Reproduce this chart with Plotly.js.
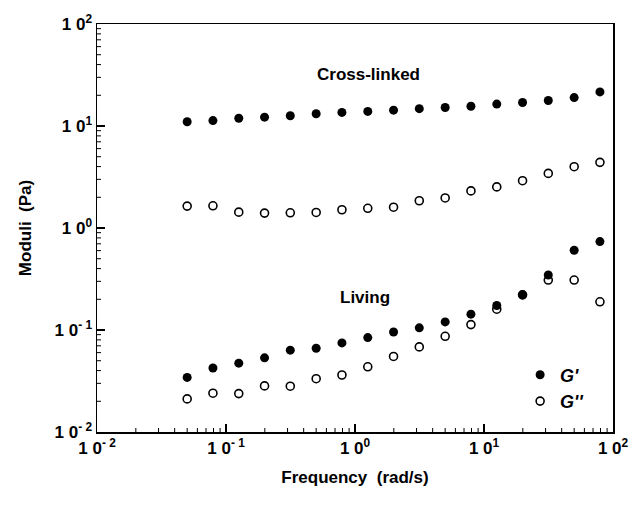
<!DOCTYPE html>
<html>
<head>
<meta charset="utf-8">
<script src="https://cdn.plot.ly/plotly-3.0.1.min.js"></script>
<style>html,body{margin:0;padding:0;background:#fff;} #chart{width:634px;height:506px;}</style>
</head>
<body>
<div id="chart"></div>
<script>
// Frequency (rad/s)
const frequency = [0.05, 0.0792, 0.1256, 0.199, 0.315, 0.5, 0.792, 1.256, 1.99, 3.15, 5.0, 7.92, 12.56, 19.9, 31.5, 50.0, 79.2];
// Cross-linked
const crossG1 = [11.0, 11.3, 11.9, 12.2, 12.6, 13.2, 13.6, 13.9, 14.3, 14.8, 15.2, 15.6, 16.4, 17.0, 17.8, 19.0, 21.6];
const crossG2 = [1.64, 1.65, 1.43, 1.40, 1.41, 1.42, 1.51, 1.56, 1.60, 1.85, 1.97, 2.31, 2.53, 2.91, 3.43, 3.99, 4.40];
// Living
const livingG1 = [0.0343, 0.0424, 0.0473, 0.0533, 0.0634, 0.0663, 0.0747, 0.0842, 0.0957, 0.105, 0.120, 0.143, 0.174, 0.221, 0.346, 0.605, 0.736];
const livingG2 = [0.0211, 0.0240, 0.0238, 0.0283, 0.0281, 0.0333, 0.0362, 0.0436, 0.0550, 0.0683, 0.0867, 0.113, 0.160, 0.221, 0.309, 0.309, 0.189];

const majorVals = [0.01, 0.1, 1, 10, 100];
const majorText = ['1 0<sup>- 2</sup>', '1 0<sup>- 1</sup>', '1 0<sup>0</sup>', '1 0<sup>1</sup>', '1 0<sup>2</sup>'];
const minorVals = [];
for (let e = -2; e < 2; e++) for (let m = 2; m <= 9; m++) minorVals.push(m * Math.pow(10, e));

const labels = [
  {text: 'Cross-linked', x: 1.28, y: 32},
  {text: 'Living', x: 1.19, y: 0.21}
];

const FONT = 'Liberation Sans, Arial, sans-serif';
const filled = {symbol: 'circle', size: 9, color: '#000', line: {width: 0}};
const open = {symbol: 'circle-open', size: 8, color: '#000', line: {width: 1.6}};

const traces = [
  {x: frequency, y: crossG2, mode: 'markers', marker: open, name: "<i>G''</i>", showlegend: false},
  {x: frequency, y: livingG2, mode: 'markers', marker: open, name: "<i>G''</i>", showlegend: false},
  {x: frequency, y: crossG1, mode: 'markers', marker: filled, name: "<i>G'</i>", showlegend: true, legendrank: 1},
  {x: frequency, y: livingG1, mode: 'markers', marker: filled, name: "<i>G'</i>", showlegend: false},
  {x: [null], y: [null], mode: 'markers', marker: open, name: "<i>G''</i>", showlegend: true, legendrank: 2}
];

function axis(title) {
  return {
    type: 'log', range: [-2, 2],
    tickmode: 'array', tickvals: majorVals, ticktext: majorText,
    ticks: 'inside', ticklen: 8, tickwidth: 1.5, tickcolor: '#000',
    showline: true, linecolor: '#000', linewidth: 1.5, mirror: true,
    showgrid: false, zeroline: false,
    tickfont: {family: FONT, size: 17, color: '#000', weight: 'bold'},
    title: {text: title, font: {family: FONT, size: 17, color: '#000', weight: 'bold'}}
  };
}

const xa = axis('Frequency  (rad/s)');
xa.title.standoff = 14;
const ya = axis('Moduli  (Pa)');
ya.title.standoff = 18;

// Inside tick marks drawn as axis-referenced shapes (major + minor), on x (bottom) and y (left)
const PLOT_W = 634 - 97 - 21, PLOT_H = 506 - 24 - 74;
function tickShapes(vals, lenPx, width) {
  const out = [];
  vals.forEach(v => {
    out.push({type: 'line', xref: 'x', yref: 'paper', x0: v, x1: v, y0: 0, y1: lenPx / PLOT_H,
              line: {color: '#000', width: width}, layer: 'above'});
    out.push({type: 'line', xref: 'paper', yref: 'y', y0: v, y1: v, x0: 0, x1: lenPx / PLOT_W,
              line: {color: '#000', width: width}, layer: 'above'});
  });
  return out;
}
const shapes = tickShapes(majorVals.slice(1, -1), 8, 1.5).concat(tickShapes(minorVals, 4, 1));

const layout = {
  width: 634, height: 506,
  margin: {l: 97, r: 21, t: 24, b: 74},
  paper_bgcolor: '#fff', plot_bgcolor: '#fff',
  xaxis: xa, yaxis: ya,
  shapes: shapes,
  showlegend: true,
  legend: {x: 0.82, y: 0.185, xanchor: 'left', yanchor: 'top', bgcolor: 'rgba(0,0,0,0)',
           font: {family: FONT, size: 18, color: '#000', weight: 'bold'}, itemwidth: 30, traceorder: 'normal'},
  annotations: labels.map(l => ({
    x: Math.log10(l.x), y: Math.log10(l.y), xref: 'x', yref: 'y', text: l.text, showarrow: false,
    font: {family: FONT, size: 17, color: '#000', weight: 'bold'}
  }))
};

Plotly.newPlot('chart', traces, layout, {displayModeBar: false, staticPlot: true});
</script>
</body>
</html>
